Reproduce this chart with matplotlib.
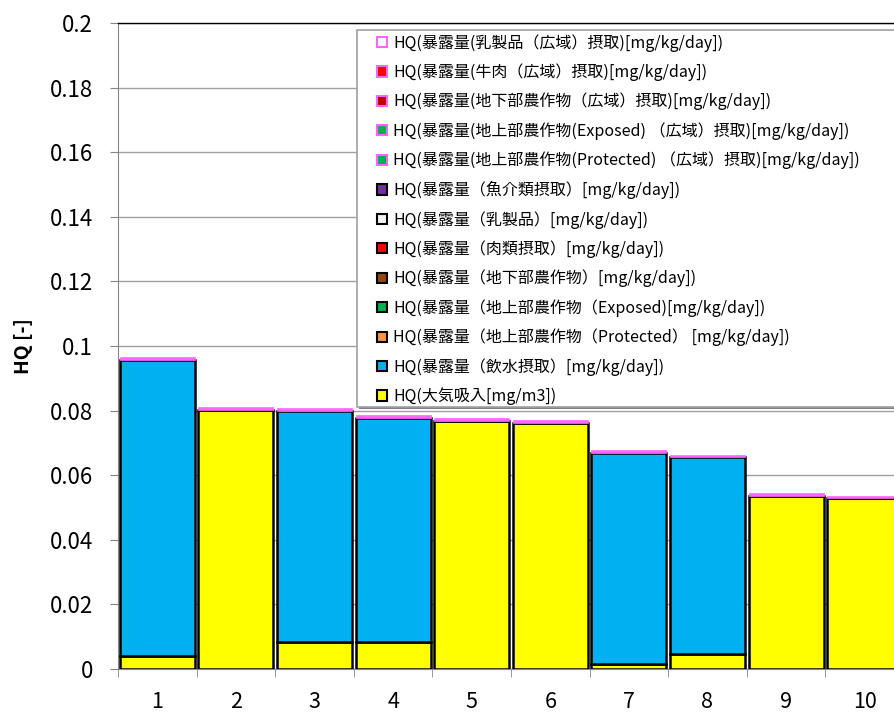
import numpy as np
import matplotlib
matplotlib.use('Agg')
import matplotlib.pyplot as plt
from matplotlib.patches import Patch, Rectangle

plt.rcParams['font.family'] = ['Noto Sans CJK JP', 'DejaVu Sans']

cats = ['1', '2', '3', '4', '5', '6', '7', '8', '9', '10']
# stacked from bottom to top
air = [0.0040, 0.0802, 0.0084, 0.0084, 0.0768, 0.0762, 0.0016, 0.0046, 0.0536, 0.0529]
water = [0.0917, 0.0, 0.0715, 0.0693, 0.0, 0.0, 0.0653, 0.0610, 0.0, 0.0]
dairy_wide = [0.0008] * 10

series = [
    ('HQ(大気吸入[mg/m3])', air, '#FFFF00', 'black'),
    ('HQ(暴露量（飲水摂取）[mg/kg/day])', water, '#00B0F0', 'black'),
    ('HQ(暴露量（地上部農作物（Protected） [mg/kg/day])', None, '#F79646', 'black'),
    ('HQ(暴露量（地上部農作物（Exposed)[mg/kg/day])', None, '#00B050', 'black'),
    ('HQ(暴露量（地下部農作物）[mg/kg/day])', None, '#974706', 'black'),
    ('HQ(暴露量（肉類摂取）[mg/kg/day])', None, '#FF0000', 'black'),
    ('HQ(暴露量（乳製品）[mg/kg/day])', None, '#F2F2F2', 'black'),
    ('HQ(暴露量（魚介類摂取）[mg/kg/day])', None, '#7030A0', 'black'),
    ('HQ(暴露量(地上部農作物(Protected) （広域）摂取)[mg/kg/day])', None, '#00B050', '#FF66FF'),
    ('HQ(暴露量(地上部農作物(Exposed) （広域）摂取)[mg/kg/day])', None, '#00B050', '#FF66FF'),
    ('HQ(暴露量(地下部農作物（広域）摂取)[mg/kg/day])', None, '#C00000', '#FF66FF'),
    ('HQ(暴露量(牛肉（広域）摂取)[mg/kg/day])', None, '#FF0000', '#FF66FF'),
    ('HQ(暴露量(乳製品（広域）摂取)[mg/kg/day])', dairy_wide, 'white', '#FF66FF'),
]

W, H = 894, 715
fig = plt.figure(figsize=(W / 100, H / 100), dpi=100)
ax = fig.add_axes([118 / W, 46 / H, 786 / W, 646 / H])

x = np.arange(len(cats))
bottom = np.zeros(len(cats))
for name, vals, fc, ec in series:
    if vals is None:
        continue
    vals = np.array(vals)
    if ec == 'black':
        ax.bar(x, vals, 0.955, bottom=bottom, color=fc, edgecolor=ec, linewidth=1.8, zorder=3)
    else:
        ax.bar(x, vals, 0.955, bottom=bottom, color=ec, edgecolor=ec, linewidth=0.5, zorder=3)
    bottom += vals

ax.set_xlim(-0.5, 9.5)
ax.set_ylim(0, 0.2)
ax.set_yticks(np.arange(0, 0.2001, 0.02))
ax.set_yticklabels(['0', '0.02', '0.04', '0.06', '0.08', '0.1', '0.12', '0.14', '0.16', '0.18', '0.2'])
ax.set_xticks(x)
ax.set_xticklabels(cats)
ax.set_xticks(np.arange(-0.5, 10, 1), minor=True)
ax.tick_params(axis='x', which='major', length=0, pad=16, labelsize=15.5)
ax.tick_params(axis='x', which='minor', length=6, color='#868686', direction='out')
ax.tick_params(axis='y', length=6, color='#868686', labelsize=16, pad=12)
ax.yaxis.grid(True, color='#A0A0A0', linewidth=1, zorder=0)
ax.set_axisbelow(True)
ax.spines['right'].set_visible(False)
ax.spines['top'].set_color('black')
ax.spines['top'].set_linewidth(1.0)
for s in ['left', 'bottom']:
    ax.spines[s].set_color('#868686')
ax.set_ylabel('HQ [-]', fontsize=14, fontweight='bold', labelpad=12)

# legend frame (extends past the right edge of the figure)
fig.patches.append(Rectangle((359 / W, 1 - 409 / H), 560 / W, 379 / H, transform=fig.transFigure,
                             facecolor='#808080', edgecolor='none', zorder=4))
fig.patches.append(Rectangle((357 / W, 1 - 407 / H), 560 / W, 377 / H, transform=fig.transFigure,
                             facecolor='white', edgecolor='#A0A0A0', linewidth=1.2, zorder=5))

handles = [Patch(facecolor=fc, edgecolor=ec, linewidth=1.5) for _, _, fc, ec in series]
labels = [name for name, _, _, _ in series]
leg = fig.legend(handles[::-1], labels[::-1], loc='upper left',
                 bbox_to_anchor=(377 / W, 1 - 34 / H), bbox_transform=fig.transFigure,
                 fontsize=11.5, frameon=False, handlelength=0.6, handleheight=0.6,
                 handletextpad=0.4, labelspacing=0.735, borderpad=0, borderaxespad=0)
leg.set_zorder(6)

fig.savefig('out.png', dpi=100)
